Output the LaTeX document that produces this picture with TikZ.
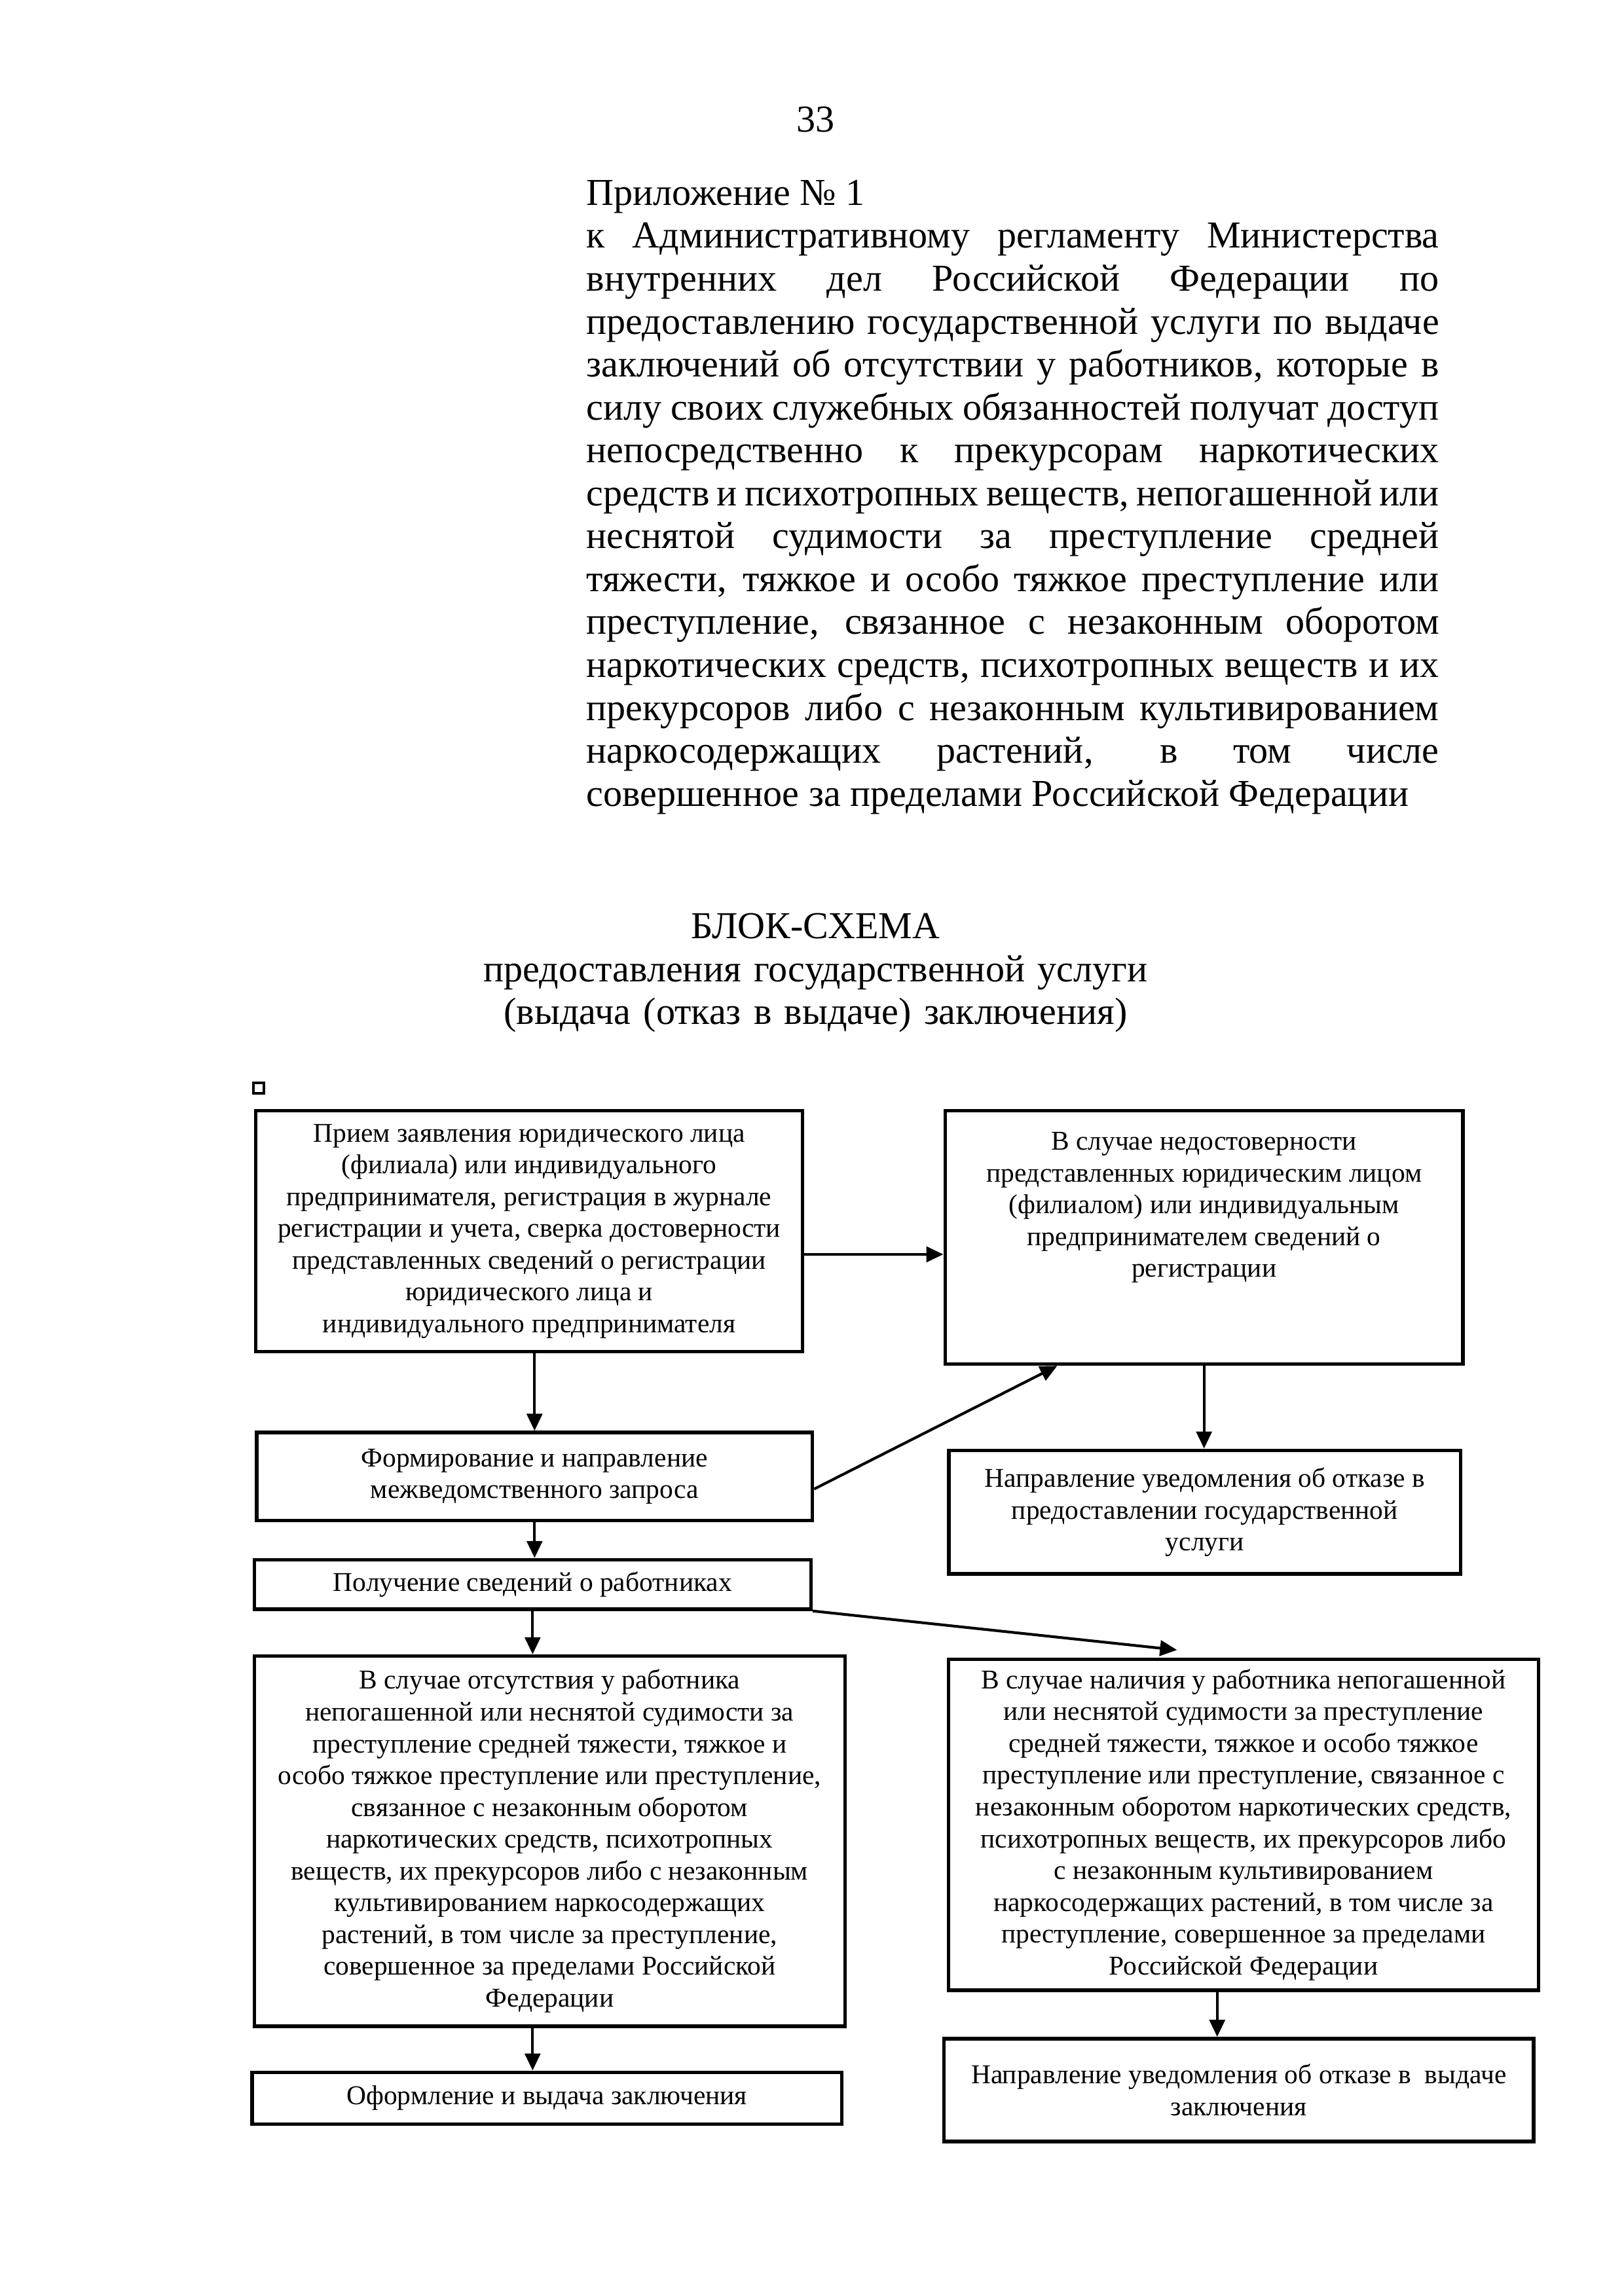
\documentclass[tikz,border=0pt]{standalone}
\usepackage{fontspec}
\setmainfont{Liberation Serif}
\usepackage{tikz}
\usetikzlibrary{arrows.meta,positioning}

\begin{document}
\begin{tikzpicture}[
  node distance=10mm and 18mm,
  box/.style={draw,line width=1.3pt,align=center,inner sep=1mm,font=\fontsize{10}{11.7}\selectfont},
  heading/.style={inner sep=0,font=\fontsize{14}{15.8}\selectfont},
  smallsq/.style={draw,line width=1pt,minimum size=1.35mm,inner sep=0},
  arrow/.style={-{Triangle[length=2.2mm,width=2mm]},line width=1pt}
]
  \path[fill=white] (0,0) rectangle (21,-29.708);
  \useasboundingbox (0,0) rectangle (21,-29.708);

  % page head
  \node[heading] (pagenum) at (10.55,-1.55) {33};
  \node[heading,anchor=base west,text width=11.03cm,align=justify] (appendix) at (7.58,-2.655) {Приложение №~1\\
    к Административному регламенту Министерства\linebreak
    внутренних дел Российской Федерации по\linebreak
    предоставлению государственной услуги по выдаче\linebreak
    заключений об отсутствии у работников, которые в\linebreak
    силу своих служебных обязанностей получат доступ\linebreak
    непосредственно к прекурсорам наркотических\linebreak
    средств и психотропных веществ, непогашенной или\linebreak
    неснятой судимости за преступление средней\linebreak
    тяжести, тяжкое и особо тяжкое преступление или\linebreak
    преступление, связанное с незаконным оборотом\linebreak
    наркотических средств, психотропных веществ и их\linebreak
    прекурсоров либо с незаконным культивированием\linebreak
    наркосодержащих растений, в том числе\linebreak
    совершенное за пределами Российской Федерации};
  \node[heading,anchor=base,text width=12cm,align=center] (title) at (10.55,-12.145) {БЛОК-СХЕМА\\
    предоставления государственной услуги\\
    (выдача (отказ в выдаче) заключения)};

  \node[smallsq] (sq) at (3.346,-14.08) {};

  % left column
  \node[box,minimum width=7.07cm,minimum height=3.12cm] (intake) at (6.845,-15.93) {Прием заявления юридического лица\\
    (филиала) или индивидуального\\
    предпринимателя, регистрация в журнале\\
    регистрации и учета, сверка достоверности\\
    представленных сведений о регистрации\\
    юридического лица и\\
    индивидуального предпринимателя};
  \node[box,minimum width=7.19cm,minimum height=1.14cm,below=10mm of intake,xshift=0.7mm] (query) {Формирование и направление\\
    межведомственного запроса};
  \node[box,minimum width=7.2cm,minimum height=0.64cm,below=4.6mm of query,xshift=-0.25mm] (info) {Получение сведений о работниках};
  \node[box,minimum width=7.64cm,minimum height=4.79cm,below=5.6mm of info,xshift=2.2mm] (absent) {В случае отсутствия у работника\\
    непогашенной или неснятой судимости за\\
    преступление средней тяжести, тяжкое и\\
    особо тяжкое преступление или преступление,\\
    связанное с незаконным оборотом\\
    наркотических средств, психотропных\\
    веществ, их прекурсоров либо с незаконным\\
    культивированием наркосодержащих\\
    растений, в том числе за преступление,\\
    совершенное за пределами Российской\\
    Федерации};
  \node[box,minimum width=7.63cm,minimum height=0.67cm,below=5.5mm of absent,xshift=-0.35mm] (issue) {Оформление и выдача заключения};

  % right column
  \node[box,minimum width=6.7cm,inner ysep=2.8mm,right=18mm of intake.north east,anchor=north west] (invalid) {\parbox[c][2.72cm][t]{6.5cm}{\centering
    В случае недостоверности\\
    представленных юридическим лицом\\
    (филиалом) или индивидуальным\\
    предпринимателем сведений о\\
    регистрации}};
  \node[box,minimum width=6.62cm,minimum height=1.6cm,below=10.7mm of invalid,xshift=0.1mm] (refusal) {Направление уведомления об отказе в\\
    предоставлении государственной\\
    услуги};
  \node[box,minimum width=7.63cm,minimum height=4.28cm,below=10.6mm of refusal,xshift=5mm] (present) {В случае наличия у работника непогашенной\\
    или неснятой судимости за преступление\\
    средней тяжести, тяжкое и особо тяжкое\\
    преступление или преступление, связанное с\\
    незаконным оборотом наркотических средств,\\
    психотропных веществ, их прекурсоров либо\\
    с незаконным культивированием\\
    наркосодержащих растений, в том числе за\\
    преступление, совершенное за пределами\\
    Российской Федерации};
  \node[box,minimum width=7.63cm,minimum height=1.33cm,below=5.8mm of present,xshift=-0.6mm] (denial) {Направление уведомления об отказе в \ выдаче\\
    заключения};

  \draw[arrow] ([yshift=-3mm]intake.east) -- ([yshift=-3mm]intake.east -| invalid.west);
  \draw[arrow] (query.north |- intake.south) -- (query.north);
  \draw[arrow] ([yshift=-1.6mm]query.east) -- ([xshift=-19mm]invalid.south);
  \draw[arrow] (invalid.south) -- (invalid.south |- refusal.north);
  \draw[arrow] (query.south) -- (query.south |- info.north);
  \draw[arrow] (info.south) -- (info.south |- absent.north);
  \draw[arrow] (info.south east) -- ([xshift=-8.6mm,yshift=1mm]present.north);
  \draw[arrow] (info.south |- absent.south) -- (info.south |- issue.north);
  \draw[arrow] ([xshift=-3.4mm]present.south) -- ([xshift=-3.4mm]present.south |- denial.north);
\end{tikzpicture}
\end{document}
